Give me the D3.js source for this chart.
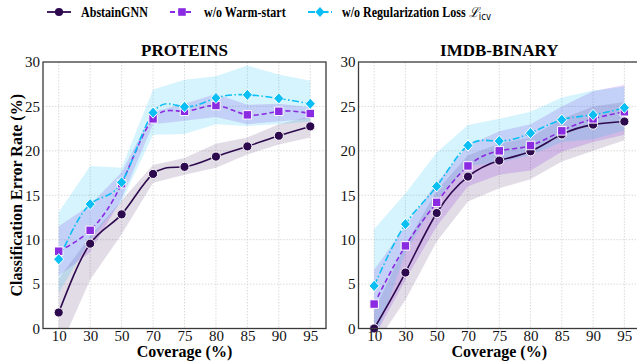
<!DOCTYPE html>
<html>
<head>
<meta charset="utf-8">
<script src="https://cdn.jsdelivr.net/npm/d3@7"></script>
<style>
  body { margin: 0; background: #fff; }
</style>
</head>
<body>
<div id="chart"></div>
<script>
const width = 637;
const height = 364;
const serif = "'Liberation Serif', 'Times New Roman', Times, serif";

const coverage = ["10", "30", "50", "70", "75", "80", "85", "90", "95"];
const yTicks = [0, 5, 10, 15, 20, 25, 30];
const seriesNames = ["AbstainGNN", "w/o Warm-start", "w/o Regularization Loss"];

// PROTEINS
const proteinsAbstain = [1.8, 9.55, 12.85, 17.4, 18.2, 19.35, 20.5, 21.7, 22.75];
const proteinsAbstainLo = [-2.5, 5.5, 10.6, 16.4, 17.3, 18.1, 19.6, 20.7, 21.5];
const proteinsAbstainHi = [5.6, 10.4, 14.4, 18.4, 19.2, 20.8, 21.5, 23.0, 23.9];
const proteinsWarm = [8.7, 11.05, 16.3, 23.6, 24.45, 25.1, 24.05, 24.45, 24.2];
const proteinsWarmLo = [5.9, 8.6, 14.6, 23.0, 23.4, 23.8, 23.0, 23.3, 23.6];
const proteinsWarmHi = [11.5, 13.9, 17.6, 24.4, 25.3, 26.4, 25.2, 25.3, 24.9];
const proteinsReg = [7.8, 14.0, 16.45, 24.3, 24.95, 25.95, 26.3, 25.9, 25.3];
const proteinsRegLo = [4.0, 10.0, 14.3, 21.8, 21.9, 23.0, 22.8, 23.0, 23.3];
const proteinsRegHi = [13.1, 18.3, 18.1, 26.9, 28.0, 28.4, 29.6, 28.6, 27.9];

// IMDB-BINARY
const imdbAbstain = [0.0, 6.3, 13.0, 17.1, 18.9, 19.95, 21.85, 22.95, 23.3];
const imdbAbstainLo = [-2.0, 3.2, 9.8, 14.3, 15.8, 16.8, 18.8, 20.0, 21.2];
const imdbAbstainHi = [2.0, 9.4, 15.5, 19.5, 20.8, 21.5, 23.6, 25.0, 25.5];
const imdbWarm = [2.75, 9.3, 14.2, 18.3, 20.0, 20.6, 22.25, 23.6, 24.4];
const imdbWarmLo = [-1.0, 5.5, 11.5, 16.0, 17.3, 17.8, 19.9, 21.0, 21.8];
const imdbWarmHi = [6.6, 11.5, 16.4, 20.6, 22.2, 23.0, 25.0, 26.7, 27.4];
const imdbReg = [4.8, 11.75, 16.0, 20.6, 21.1, 22.0, 23.5, 24.05, 24.85];
const imdbRegLo = [-1.5, 8.5, 14.5, 18.3, 18.7, 19.5, 21.0, 21.3, 22.3];
const imdbRegHi = [11.2, 15.2, 19.8, 22.9, 23.6, 24.4, 26.0, 26.8, 27.2];

const colors = ["#2d0a4e", "#8a2be2", "#0bbff5"];
const bandOpacity = [0.14, 0.2, 0.17];
const dashes = [null, "5,3", "7,2.5,1.5,2.5"];

// diamond like matplotlib's "D": a square turned 45 degrees, a bit taller
const diamond = {
    draw(ctx, size) {
        const a = Math.sqrt(size / 2);
        ctx.moveTo(0, -a * 1.1);
        ctx.lineTo(a, 0);
        ctx.lineTo(0, a * 1.1);
        ctx.lineTo(-a, 0);
        ctx.closePath();
    }
};
const symbols = [d3.symbolCircle, d3.symbolSquare, diamond];
const symbolSizes = [66, 72, 52];

const panels = [
    { title: "PROTEINS", x0: 43, x1: 326,
      mean: [proteinsAbstain, proteinsWarm, proteinsReg],
      lo: [proteinsAbstainLo, proteinsWarmLo, proteinsRegLo],
      hi: [proteinsAbstainHi, proteinsWarmHi, proteinsRegHi] },
    { title: "IMDB-BINARY", x0: 358.5, x1: 640,
      mean: [imdbAbstain, imdbWarm, imdbReg],
      lo: [imdbAbstainLo, imdbWarmLo, imdbRegLo],
      hi: [imdbAbstainHi, imdbWarmHi, imdbRegHi] }
];

const plotTop = 62, plotBottom = 328.5;

const svg = d3.select("#chart").append("svg")
    .attr("width", width)
    .attr("height", height)
    .attr("font-family", serif);

const y = d3.scaleLinear().domain([0, 30]).range([plotBottom, plotTop]);

panels.forEach((p, pi) => {
    const x = d3.scalePoint().domain(coverage).range([p.x0, p.x1]).padding(0.5);
    const g = svg.append("g");
    const clipId = "clip" + pi;
    svg.append("clipPath").attr("id", clipId)
        .append("rect")
        .attr("x", p.x0).attr("y", plotTop)
        .attr("width", p.x1 - p.x0).attr("height", plotBottom - plotTop);

    // grid
    g.append("g").selectAll("line").data(coverage).enter().append("line")
        .attr("x1", d => x(d)).attr("x2", d => x(d))
        .attr("y1", plotTop).attr("y2", plotBottom)
        .attr("stroke", "#d0d0d0").attr("stroke-width", 0.8)
        .attr("stroke-dasharray", "1.5,1.5");
    g.append("g").selectAll("line").data(yTicks.slice(1, -1)).enter().append("line")
        .attr("x1", p.x0).attr("x2", p.x1)
        .attr("y1", d => y(d)).attr("y2", d => y(d))
        .attr("stroke", "#d0d0d0").attr("stroke-width", 0.8)
        .attr("stroke-dasharray", "1.5,1.5");

    const plot = g.append("g").attr("clip-path", `url(#${clipId})`);

    // bands
    [0, 1, 2].forEach(s => {
        const area = d3.area()
            .x((d, i) => x(coverage[i]))
            .y0((d, i) => y(p.lo[s][i]))
            .y1((d, i) => y(p.hi[s][i]));
        plot.append("path")
            .datum(p.mean[s])
            .attr("d", area)
            .attr("fill", colors[s])
            .attr("fill-opacity", bandOpacity[s]);
    });

    // lines and markers
    [0, 1, 2].forEach(s => {
        const line = d3.line()
            .x((d, i) => x(coverage[i]))
            .y(d => y(d))
            .curve(d3.curveNatural);
        plot.append("path")
            .datum(p.mean[s])
            .attr("d", line)
            .attr("fill", "none")
            .attr("stroke", colors[s])
            .attr("stroke-width", 1.6)
            .attr("stroke-dasharray", dashes[s]);
    });
    [0, 1, 2].forEach(s => {
        g.append("g").selectAll("path").data(p.mean[s]).enter().append("path")
            .attr("transform", (d, i) => `translate(${x(coverage[i])},${y(d)})`)
            .attr("d", d3.symbol().type(symbols[s]).size(symbolSizes[s]))
            .attr("fill", colors[s])
            .attr("stroke", "#fff")
            .attr("stroke-width", 1);
    });

    // frame
    g.append("rect")
        .attr("x", p.x0).attr("y", plotTop)
        .attr("width", p.x1 - p.x0).attr("height", plotBottom - plotTop)
        .attr("fill", "none").attr("stroke", "#3a3a3a").attr("stroke-width", 1.3);

    // axes
    const xAxis = g.append("g")
        .attr("transform", `translate(0,${plotBottom})`)
        .call(d3.axisBottom(x).tickSize(0).tickPadding(2));
    xAxis.attr("font-family", serif);
    xAxis.select(".domain").remove();
    xAxis.selectAll("text").attr("font-size", 15).attr("fill", "#111");

    const yAxis = g.append("g")
        .attr("transform", `translate(${p.x0},0)`)
        .call(d3.axisLeft(y).tickValues(yTicks).tickSize(0).tickPadding(3));
    yAxis.attr("font-family", serif);
    yAxis.select(".domain").remove();
    yAxis.selectAll("text").attr("font-size", 15).attr("fill", "#111");

    // titles
    g.append("text")
        .attr("x", (p.x0 + p.x1) / 2)
        .attr("y", 56)
        .attr("text-anchor", "middle")
        .attr("font-size", 17).attr("font-weight", "bold")
        .text(p.title);
    g.append("text")
        .attr("x", (p.x0 + p.x1) / 2)
        .attr("y", 357)
        .attr("text-anchor", "middle")
        .attr("font-size", 16).attr("font-weight", "bold")
        .text("Coverage (%)");
});

svg.append("text")
    .attr("transform", `translate(22,${(plotTop + plotBottom) / 2}) rotate(-90)`)
    .attr("text-anchor", "middle")
    .attr("font-size", 16).attr("font-weight", "bold")
    .text("Classification Error Rate (%)");

// legend
const legendX = [47, 170, 308];
const legend = svg.append("g");
seriesNames.forEach((name, s) => {
    const lg = legend.append("g").attr("transform", `translate(${legendX[s]},12)`);
    lg.append("line")
        .attr("x1", 0).attr("x2", 24)
        .attr("stroke", colors[s]).attr("stroke-width", 1.8)
        .attr("stroke-dasharray", dashes[s]);
    lg.append("path")
        .attr("transform", "translate(12,0)")
        .attr("d", d3.symbol().type(symbols[s]).size(symbolSizes[s] * 0.8))
        .attr("fill", colors[s]);
    const t = lg.append("text")
        .attr("transform", "translate(34,5) scale(0.86,1)")
        .attr("font-size", 14).attr("font-weight", "bold")
        .text(name);
    if (s === 2) {
        t.append("tspan").text(" ");
        t.append("tspan").attr("font-style", "italic").attr("font-weight", "normal")
            .attr("font-family", "'DejaVu Serif', serif").text("ℒ");
        t.append("tspan").attr("font-weight", "normal").attr("font-family", "'DejaVu Sans', sans-serif")
            .attr("font-size", 10).attr("dy", 3).text("icv");
    }
});
</script>
</body>
</html>
